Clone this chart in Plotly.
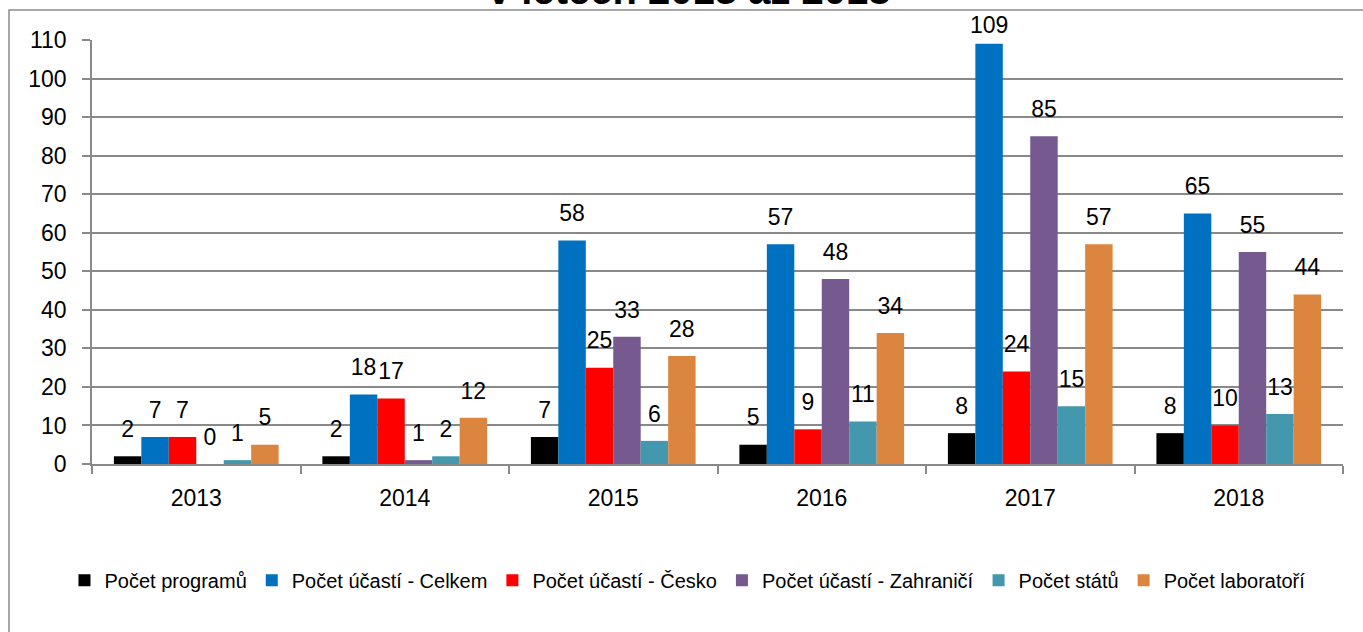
import plotly.graph_objects as go

years = ["2013", "2014", "2015", "2016", "2017", "2018"]
series_names = [
    "Počet programů",
    "Počet účastí - Celkem",
    "Počet účastí - Česko",
    "Počet účastí - Zahraničí",
    "Počet států",
    "Počet laboratoří",
]
programy = [2, 2, 7, 5, 8, 8]
ucasti_celkem = [7, 18, 58, 57, 109, 65]
ucasti_cesko = [7, 17, 25, 9, 24, 10]
ucasti_zahranici = [0, 1, 33, 48, 85, 55]
staty = [1, 2, 6, 11, 15, 13]
laboratore = [5, 12, 28, 34, 57, 44]
colors = ["#000000", "#0070C0", "#FF0000", "#75598F", "#4398AE", "#DC853F"]
title_text = "v letech 2013 až 2018"
y_ticks = list(range(0, 111, 10))
Y_MAX = 110

series_values = [programy, ucasti_celkem, ucasti_cesko, ucasti_zahranici, staty, laboratore]

FONT = "Liberation Sans"
fig = go.Figure()
for name, vals, col in zip(series_names, series_values, colors):
    fig.add_trace(go.Bar(
        x=years, y=vals, name=name, marker=dict(color=col, line=dict(width=0)),
        hoverinfo="skip",
    ))
for name, vals in zip(series_names, series_values):
    # labels near the top of the axis are kept closer to their bar (as Excel does)
    gap = [6 if v > Y_MAX - 5 else 20 for v in vals]
    fig.add_trace(go.Scatter(
        x=years, y=vals, mode="markers+text", text=[str(v) for v in vals],
        textposition="top center", textfont=dict(family=FONT, size=23, color="#000000"),
        marker=dict(size=gap, opacity=0), showlegend=False, hoverinfo="skip",
        cliponaxis=False,
    ))

fig.update_layout(
    width=1363, height=632,
    margin=dict(l=92, r=20, t=40, b=168),
    paper_bgcolor="white", plot_bgcolor="white",
    barmode="group", bargap=0.21,
    scattermode="group", scattergap=0.21,
    font=dict(family=FONT, color="#000000"),
    legend=dict(
        orientation="h", x=0.476, xanchor="center", y=-0.274, yanchor="middle",
        font=dict(family=FONT, size=20, color="#000000"),
        itemwidth=30, tracegroupgap=0,
    ),
    showlegend=True,
    xaxis=dict(
        type="category", showgrid=False, showline=True, linecolor="#898989", linewidth=1.5,
        ticks="outside", tickson="boundaries", ticklen=8, tickcolor="#898989", tickwidth=1.5,
        tickfont=dict(family=FONT, size=23, color="#000000"), ticklabelstandoff=13,
    ),
    yaxis=dict(
        range=[0, Y_MAX], tickvals=y_ticks, showgrid=True, gridcolor="#898989", gridwidth=1.5,
        showline=True, linecolor="#898989", linewidth=1.5, zeroline=False,
        ticks="outside", ticklen=8, tickcolor="#898989", tickwidth=1.5,
        tickfont=dict(family=FONT, size=23, color="#000000"), ticklabelstandoff=11,
    ),
    shapes=[dict(
        type="rect", xref="paper", yref="paper",
        x0=(9 - 92) / 1251, x1=1.05, y0=-0.6, y1=(464 - 10) / 424,
        line=dict(color="#8c8c8c", width=1.5), fillcolor="rgba(0,0,0,0)", layer="below",
    )],
    annotations=[dict(
        text="<b>" + title_text + "</b>", xref="paper", yref="paper",
        x=0.478, xanchor="center", y=(464 - 14) / 424, yanchor="bottom",
        showarrow=False, font=dict(family=FONT, size=40, color="#000000"),
    )],
)

fig.write_html(
    "out.html",
    config={"displayModeBar": False},
    post_script="document.body.style.margin='0';document.body.style.overflow='hidden';",
)
